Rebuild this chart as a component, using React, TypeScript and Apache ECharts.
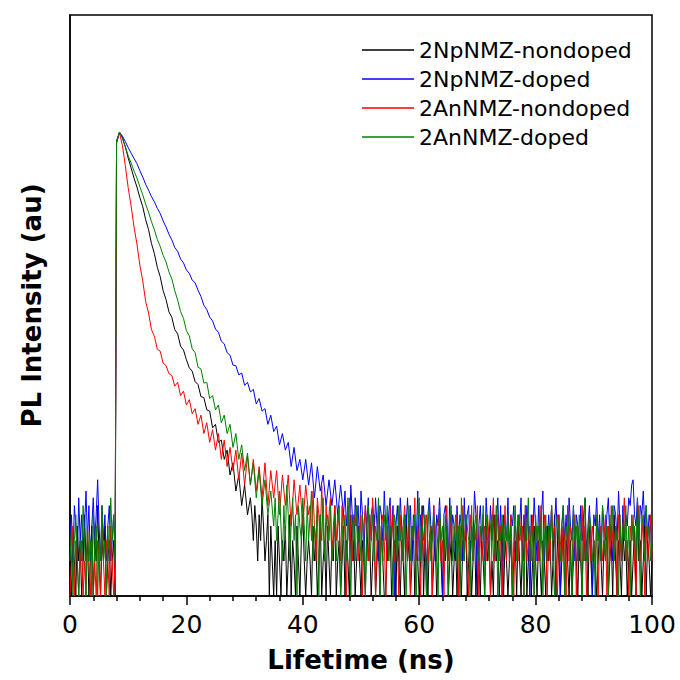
import React, { useEffect, useRef } from "react";
import * as echarts from "echarts";

// ---- Data (counts; log-scale intensity) ----
const seriesNames = ["2NpNMZ-nondoped", "2NpNMZ-doped", "2AnNMZ-nondoped", "2AnNMZ-doped"];
const seriesColors = ["#000000", "#0000ff", "#ff0000", "#008000"];

const xTicks = [0, 20, 40, 60, 80, 100];
const FINE_STEP = 0.25; // ns, noise samples
const DECAY_STEP = 0.5; // ns, decay samples
const DECAY_START = 8.0; // ns, rise of the pulse

// 2NpNMZ-nondoped (black)
const blackPre = [2,1,3,2,1,4,2,3,1,2,5,2,3,1,2,4,1,3,2,6,2,1,3,2,4,1,2,3,1,2,3,1];
const blackDecay = [7900,9800,8850,7350,5870,4830,3950,3310,2690,2240,1730,1420,1080,885,675,560,425,356,279,250,196,180,141,131,108,92,86,70,66,52,51,40,39,28,30,21,22,15,18,11,14,8,11,6,9,5,7];
const blackTail = [
  5,3,6,4,2,5,3,7,4,2,3,5,1,4,2,1,3,1,4,2,
  1,3,2,4,1,2,5,1,3,2,1,4,2,1,3,5,2,1,2,3,
  2,1,4,2,3,1,2,5,1,2,3,1,4,2,1,3,2,6,1,2,
  3,1,2,4,1,3,2,1,5,2,3,1,2,4,2,1,3,2,1,4,
  2,3,1,2,5,1,2,3,1,4,2,1,1,3,2,4,1,2,3,1,
  4,2,1,3,2,1,5,2,3,1,2,4,1,3,2,1,2,6,1,3,
  2,1,3,4,1,2,3,1,2,5,2,1,3,2,4,1,2,3,1,2,
  3,1,4,2,1,3,2,5,1,2,3,1,2,4,1,3,2,1,3,2,
  1,4,2,3,1,2,1,5,2,3,1,2,4,1,3,2,1,2,3,1,
  2,3,1,4,2,1,3,2,6,1,2,3,1,2,4,2,1,3,2,1,
  3,2,1,4,2,3,1,2,5,1,3,2,1,2,4,1,3,2,1,3,
  1,2,4,2,1,3,2,1,5,2,3,1,4,2,1,3,2,1,2,4,
  2,1,3,2,4,1,2,3,1,5,2,1,3,2,1,4,2,3,1,2,
  3,1,2,4,1,6,2,3,1,2,4,1,3,2,1,2
];

// 2NpNMZ-doped (blue)
const bluePre = [3,5,2,6,4,2,7,3,5,2,4,8,3,6,2,4,7,3,5,10,4,2,6,3,5,2,4,6,2,3,5,2];
const blueDecay = [8100,9800,9080,8140,7230,6470,5830,5260,4580,4030,3490,3110,2730,2470,2170,1960,1690,1500,1300,1160,1000,925,795,735,640,598,522,496,428,378,318,292,251,233,198,186,156,148,124,118,97,96,80,83,65,69,57,60,45,50,39,41,30,36,26,29,20,25,18,21,13,19,12,15,10,15,9,14,7,13,8,11,6,10,6,10,5,9,5];
const blueTail = [
  8,4,6,3,9,5,2,7,4,6,3,8,5,2,6,4,7,3,5,6,
  3,7,4,2,6,5,3,8,4,2,5,7,3,6,1,4,6,3,7,4,
  2,5,4,7,3,6,2,5,4,3,8,2,5,4,6,3,1,5,7,4,
  3,6,2,5,4,7,3,1,5,6,4,2,7,3,5,4,2,6,3,5,
  4,2,7,3,5,6,2,4,3,8,5,1,4,6,3,5,2,7,4,3,
  6,3,5,2,4,7,3,6,1,5,4,3,7,2,5,4,6,2,3,5,
  4,7,2,5,3,6,4,1,5,3,7,4,2,6,3,5,8,2,4,3,
  5,3,6,2,4,7,3,5,1,4,6,3,5,2,7,4,3,6,2,5,
  4,2,6,3,5,7,2,4,6,3,1,5,4,7,3,5,2,6,4,3,
  5,7,3,4,2,6,5,3,8,4,2,6,3,5,4,7,6,9,10,5,
  4,7,3,6,5,8,4,6,3,5,4,2
];

// 2AnNMZ-nondoped (red)
const redPre = [1,2,4,1,3,2,1,2,3,1,2,1,4,2,1,3,1,2,1,3,2,1,5,2,1,3,2,1,4,2,1,2];
const redDecay = [8200,9700,7550,5080,3260,2270,1500,1070,705,515,342,272,196,172,133,128,101,96,82,79,64,69,53,58,44,49,37,41,30,36,25,31,21,27,18,25,15,22,13,19,12,18,10,17,9,16,9,15,8,13,7,14,6,12,7,12,5,11,6,11,4,10,5,9,4,9,5];
const redTail = [
  6,3,8,4,2,7,5,3,9,4,2,6,3,5,7,2,4,6,3,5,
  4,2,6,3,5,1,4,7,3,2,5,4,6,2,3,5,1,4,6,3,
  2,5,3,7,4,1,3,6,2,4,5,3,1,4,2,6,3,5,2,4,
  3,1,5,2,4,6,3,2,5,1,4,3,7,2,4,3,1,5,2,4,
  5,2,3,4,1,6,3,2,4,5,2,3,1,4,6,2,3,5,2,4,
  3,5,1,4,2,6,3,4,2,1,5,3,2,4,3,6,1,4,2,3,
  4,2,5,3,1,4,7,2,3,5,2,4,1,3,6,2,4,3,5,2,
  1,4,3,2,5,3,4,1,6,2,3,4,2,5,1,3,4,2,6,3,
  2,5,3,1,4,2,6,3,4,2,1,5,3,2,4,3,1,6,2,4,
  3,2,5,1,4,3,2,6,2,4,1,3,5,2,4,3,2,5,1,3,
  4,2,3,5,1,4,2,6,3,2,4,1,5,3,2,4,7,2,3,1,
  4,3,5,2,1,4,6,2,3,5,1,4,2,3,5,2
];

// 2AnNMZ-doped (green)
const greenPre = [2,4,1,3,5,2,1,3,2,6,3,1,4,2,3,1,5,2,4,1,3,2,6,2,3,1,4,2,7,3,5,2];
const greenDecay = [8300,9850,8650,7420,6120,5330,4540,3960,3330,2840,2350,2010,1660,1420,1170,1020,855,750,615,535,425,352,280,245,192,173,134,124,93,90,68,69,50,53,40,44,31,36,25,30,19,25,15,20,12,17,9,14,7,12,6,10,5,8,4];
const greenTail = [
  7,3,5,8,4,2,6,3,9,5,2,4,7,3,5,1,6,4,3,7,
  4,2,6,3,5,8,2,4,3,6,1,5,3,7,2,4,5,3,6,2,
  3,5,2,4,6,1,3,5,4,2,7,3,1,4,5,2,6,3,4,2,
  5,3,1,4,6,2,3,5,2,4,3,7,1,4,2,5,3,6,2,4,
  3,1,5,4,2,6,3,4,2,5,1,3,6,2,4,3,5,1,4,7,
  2,4,3,5,1,4,6,2,3,5,4,2,1,6,3,4,2,5,3,1,
  4,6,2,3,5,2,4,1,7,3,2,5,4,3,1,6,2,4,5,3,
  2,4,3,6,1,5,3,2,4,5,2,3,6,1,4,3,5,2,4,3,
  5,2,4,1,3,6,2,5,3,4,2,1,5,3,7,2,4,3,1,5,
  3,4,2,6,1,3,5,2,4,3,6,2,1,4,5,3,2,4,6,1,
  4,3,5,2,1,6,3,4,2,5,3,1,4,7,2,3,5,4,2,3,
  1,5,3,4,2,6,3,2,4,1,5,3,6,2,4,3,1,5,2,4,
  3,6,2,4,1,5,3,4,2,7,3,1,5,4,2,6,3,4,2,5
];

const seriesParts = [
  [blackPre, blackDecay, blackTail],
  [bluePre, blueDecay, blueTail],
  [redPre, redDecay, redTail],
  [greenPre, greenDecay, greenTail],
];

function buildSeries(pre: number[], decay: number[], tail: number[]) {
  const pts: number[][] = [];
  pre.forEach((v, i) => pts.push([i * FINE_STEP, Math.max(v, 1)]));
  decay.forEach((v, i) => pts.push([DECAY_START + i * DECAY_STEP, Math.max(v, 1)]));
  const tailStart = DECAY_START + (decay.length - 1) * DECAY_STEP + FINE_STEP;
  tail.forEach((v, i) => pts.push([tailStart + i * FINE_STEP, Math.max(v, 1)]));
  return pts;
}

export default function App() {
  const ref = useRef<HTMLDivElement>(null);
  useEffect(() => {
    if (!ref.current) return;
    const chart = echarts.init(ref.current, undefined, { renderer: "svg" });
    const option = {
      animation: false,
      backgroundColor: "#ffffff",
      grid: {
        left: 70,
        right: 28,
        top: 15,
        bottom: 84,
        show: true,
        borderColor: "#000",
        borderWidth: 1.5,
        backgroundColor: "transparent",
      },
      legend: {
        data: seriesNames,
        orient: "vertical",
        left: 362,
        top: 39,
        padding: 0,
        itemWidth: 52,
        itemHeight: 1.5,
        itemGap: 7,
        icon: "rect",
        selectedMode: false,
        textStyle: { fontFamily: "DejaVu Sans", fontSize: 22, color: "#000" },
      },
      xAxis: {
        type: "value",
        min: xTicks[0],
        max: xTicks[xTicks.length - 1],
        interval: 20,
        splitLine: { show: false },
        axisLine: { show: true, lineStyle: { color: "#000", width: 1.5 } },
        axisTick: { show: true, inside: false, length: 9, lineStyle: { color: "#000", width: 1.5 } },
        minorTick: { show: true, splitNumber: 5, length: 5, lineStyle: { color: "#000", width: 1.5 } },
        axisLabel: { fontFamily: "DejaVu Sans", fontSize: 25, color: "#000", margin: 16 },
        name: "Lifetime (ns)",
        nameLocation: "middle",
        nameGap: 51,
        nameTextStyle: { fontFamily: "DejaVu Sans", fontWeight: "bold", fontSize: 26, color: "#000" },
      },
      yAxis: {
        type: "log",
        logBase: 10,
        min: 1,
        max: 100000,
        splitLine: { show: false },
        axisLine: { show: true, lineStyle: { color: "#000", width: 1.5 } },
        axisTick: { show: false },
        axisLabel: { show: false },
        name: "PL Intensity (au)",
        nameLocation: "middle",
        nameRotate: 90,
        nameGap: 25,
        nameTextStyle: { fontFamily: "DejaVu Sans", fontWeight: "bold", fontSize: 26, color: "#000" },
      },
      series: seriesNames.map((name, k) => ({
        name,
        type: "line",
        data: buildSeries(seriesParts[k][0], seriesParts[k][1], seriesParts[k][2]),
        showSymbol: false,
        symbol: "none",
        clip: true,
        lineStyle: { color: seriesColors[k], width: 1 },
        itemStyle: { color: seriesColors[k] },
      })),
    };
    chart.setOption(option as any);
    return () => chart.dispose();
  }, []);
  return (
    <div
      ref={ref}
      style={{ position: "fixed", left: 0, top: 0, width: 680, height: 680, background: "#fff" }}
    />
  );
}
